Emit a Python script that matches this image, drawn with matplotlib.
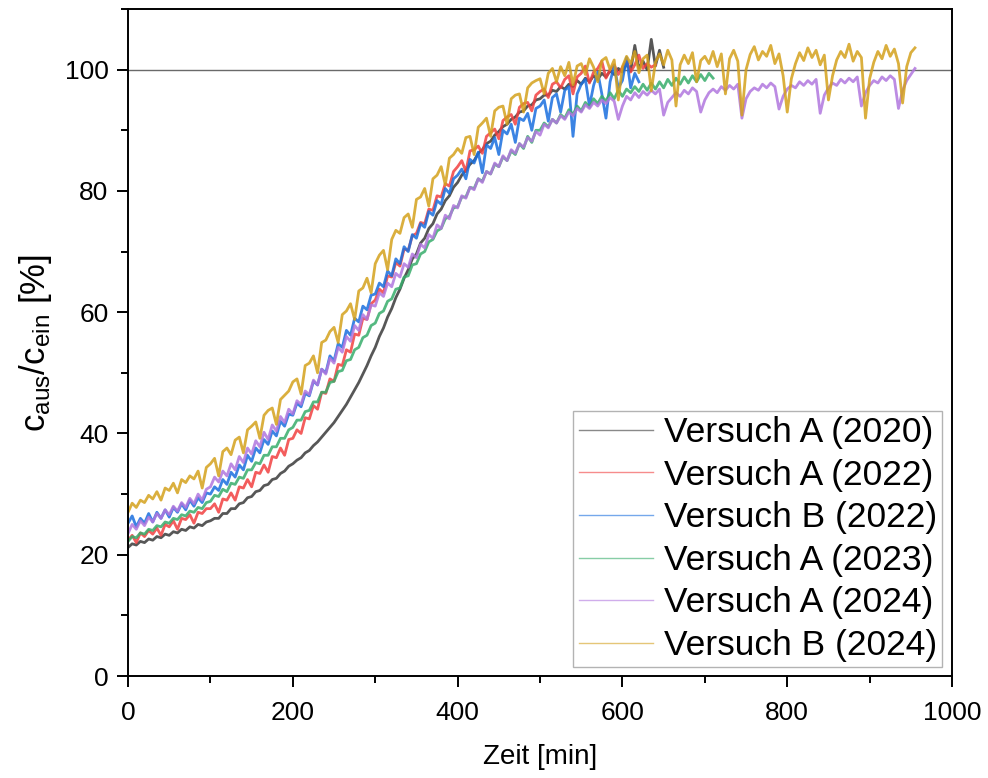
import numpy as np
import matplotlib
matplotlib.use("Agg")
import matplotlib.pyplot as plt
from matplotlib.ticker import MultipleLocator

plt.rcParams['font.family'] = ['Liberation Sans', 'DejaVu Sans']
plt.rcParams['mathtext.fontset'] = 'custom'
plt.rcParams['mathtext.rm'] = 'Liberation Sans'
plt.rcParams['mathtext.it'] = 'Liberation Sans'

step = 5

a2020 = [21.2, 21.8, 21.6, 22.2, 22.0, 22.6, 22.4, 23.0, 22.8, 23.4, 23.2, 23.8, 23.6, 24.2, 24.0, 24.6, 24.4, 25.0, 24.8, 25.4,
         25.6, 26.0, 26.0, 26.8, 26.8, 27.6, 27.6, 28.4, 28.6, 29.4, 29.6, 30.4, 30.6, 31.4, 31.6, 32.4, 32.6, 33.4, 33.8, 34.6,
         35.0, 35.6, 36.0, 36.8, 37.2, 38.0, 38.6, 39.4, 40.2, 41.0, 41.8, 42.8, 43.8, 44.8, 46.0, 47.2, 48.4, 49.8, 51.2, 52.8,
         54.2, 56.0, 57.4, 59.2, 60.6, 62.4, 63.8, 65.6, 67.0, 68.8, 69.6, 71.4, 72.2, 73.8, 74.6, 76.2, 77.0, 78.4, 79.2, 80.6,
         81.4, 82.6, 83.4, 84.4, 85.0, 86.2, 86.8, 87.8, 88.2, 89.2, 89.8, 90.6, 91.0, 91.8, 92.2, 93.0, 93.2, 94.0, 94.2, 95.0,
         95.2, 95.8, 95.8, 96.6, 96.4, 97.2, 96.8, 97.6, 97.2, 98.2, 97.6, 98.6, 98.0, 99.0, 98.4, 99.4, 98.8, 99.8, 99.2, 100.2,
         99.6, 101.0, 99.8, 104.0, 100.2, 101.4, 100.0, 105.0, 100.6, 103.2, 100.4]

a2022 = [22.4, 23.2, 22.0, 23.6, 23.0, 24.0, 23.4, 24.4, 23.2, 25.0, 24.6, 25.6, 24.2, 26.0, 25.8, 26.6, 25.2, 27.0, 26.8, 27.6,
         27.6, 28.4, 27.0, 29.2, 29.0, 30.2, 29.0, 31.2, 31.0, 32.4, 31.2, 33.6, 33.4, 34.8, 33.6, 36.2, 36.0, 37.6, 36.4, 39.0,
         39.2, 40.6, 40.0, 42.6, 42.4, 44.6, 44.0, 46.8, 46.6, 49.0, 48.6, 51.4, 51.2, 53.8, 53.4, 56.4, 56.2, 59.0, 58.8, 61.4,
         62.0, 63.8, 63.2, 66.0, 65.8, 68.2, 67.6, 70.4, 70.2, 72.6, 73.0, 74.8, 74.6, 77.0, 76.8, 79.2, 79.0, 81.2, 80.8, 83.2,
         84.0, 85.0, 83.2, 86.6, 86.8, 87.4, 86.2, 89.0, 89.6, 90.2, 88.6, 91.6, 92.2, 92.6, 91.0, 93.8, 94.4, 94.6, 93.2, 95.8,
         96.4, 96.8, 95.4, 97.6, 98.0, 97.0, 98.4, 99.0, 96.0, 98.8, 99.4, 100.6, 97.8, 99.6, 100.2, 101.4, 98.6, 100.0, 100.8, 99.2,
         100.4, 101.6, 99.6, 100.8, 102.4, 100.2, 101.0, 100.4, 100.8]

b2022 = [25.2, 26.4, 24.6, 26.0, 25.2, 26.8, 25.4, 27.0, 26.0, 27.4, 26.2, 27.8, 27.0, 28.4, 27.4, 29.0, 28.0, 29.4, 28.6, 30.2,
         30.0, 31.2, 30.6, 32.4, 31.6, 33.6, 32.8, 34.8, 34.0, 36.4, 35.4, 37.6, 36.8, 39.0, 38.2, 40.4, 39.6, 42.0, 41.2, 43.2,
         43.0, 45.0, 44.4, 46.6, 46.2, 48.6, 48.0, 50.6, 50.0, 52.8, 52.0, 54.8, 54.2, 57.0, 56.2, 59.0, 58.4, 61.0, 60.4, 62.8,
         63.0, 64.8, 64.2, 66.8, 66.0, 68.8, 68.0, 70.8, 70.0, 72.8, 72.2, 74.6, 74.0, 76.6, 76.0, 78.4, 77.8, 80.4, 79.6, 82.0,
         82.6, 83.6, 82.0, 85.2, 84.6, 86.4, 83.0, 87.6, 87.0, 88.8, 86.0, 90.0, 89.4, 91.0, 88.0, 92.0, 91.6, 92.8, 90.0, 93.6,
         94.0, 95.0, 91.5, 95.4, 96.0, 93.0, 96.6, 97.2, 89.0, 96.0, 97.6, 98.4, 94.0, 97.4, 99.6, 96.0, 92.0, 98.0, 100.6, 97.0,
         98.2, 102.0, 97.0, 99.4, 98.0]

a2023 = [22.2, 23.0, 22.8, 23.6, 23.4, 24.2, 24.0, 24.8, 24.6, 25.4, 25.2, 26.0, 25.8, 26.6, 26.4, 27.2, 27.0, 27.8, 27.6, 28.6,
         28.8, 29.8, 29.6, 30.8, 30.4, 31.8, 31.6, 32.8, 32.6, 34.0, 34.0, 35.2, 35.0, 36.4, 36.4, 37.8, 37.8, 39.2, 39.2, 40.6,
         41.0, 42.2, 42.2, 43.6, 43.8, 45.2, 45.2, 46.8, 46.8, 48.4, 48.6, 50.2, 50.4, 52.0, 52.2, 53.8, 54.2, 55.8, 56.2, 57.8,
         58.2, 59.8, 60.2, 61.8, 62.2, 63.8, 64.0, 65.8, 66.0, 67.8, 68.0, 69.6, 70.0, 71.6, 72.0, 73.4, 73.8, 75.4, 75.8, 77.2,
         77.4, 79.0, 79.0, 80.6, 80.4, 82.0, 81.6, 83.2, 82.8, 84.4, 84.0, 85.6, 85.0, 86.6, 86.0, 87.8, 87.0, 89.0, 88.0, 90.0,
         90.0, 91.2, 90.6, 91.8, 91.2, 92.6, 92.0, 93.4, 92.6, 94.0, 93.2, 94.6, 93.8, 95.2, 94.4, 95.6, 94.8, 96.2, 95.2, 96.6,
         95.6, 96.8, 96.2, 97.2, 96.4, 97.6, 96.6, 97.8, 96.8, 98.0, 97.0, 98.4, 97.4, 98.6, 97.6, 98.8, 97.8, 99.0, 98.0, 99.2,
         98.2, 99.4, 98.6]

a2024 = [23.5, 25.0, 24.2, 25.6, 24.8, 26.2, 25.4, 26.8, 26.0, 27.4, 26.6, 28.0, 27.2, 28.6, 27.8, 29.3, 28.4, 30.0, 29.0, 30.8,
         31.2, 32.8, 32.0, 33.8, 33.0, 35.0, 34.0, 36.2, 35.2, 37.6, 36.6, 38.8, 37.8, 40.2, 39.0, 41.4, 40.4, 42.8, 41.8, 44.0,
         43.2, 45.4, 44.8, 47.0, 46.4, 48.8, 48.0, 50.6, 49.8, 52.4, 51.6, 54.2, 53.4, 56.0, 55.2, 57.8, 57.0, 59.6, 58.8, 61.2,
         61.0, 63.2, 62.6, 64.8, 64.2, 66.4, 65.8, 68.0, 67.4, 69.6, 69.0, 71.2, 70.6, 72.8, 72.2, 74.4, 73.8, 76.0, 75.4, 77.6,
         77.2, 79.2, 78.8, 80.6, 80.2, 82.0, 81.4, 83.2, 82.8, 84.6, 84.0, 85.8, 85.0, 86.8, 86.2, 87.8, 87.2, 88.8, 88.2, 89.8,
         89.2, 91.0, 90.4, 91.8, 91.2, 92.4, 91.8, 93.0, 92.4, 93.6, 93.0, 94.2, 93.6, 94.6, 94.0, 95.0, 94.4, 95.4, 94.8, 91.8,
         94.0, 95.6, 95.0, 96.2, 95.4, 96.4, 95.8, 96.6, 96.0, 96.8, 92.5, 94.6, 95.4, 96.2, 95.6, 96.6, 96.0, 97.0, 96.4, 93.0,
         95.0, 96.2, 96.8, 96.2, 97.2, 96.6, 97.4, 96.8, 97.6, 92.0, 95.2, 96.4, 97.0, 96.6, 97.6, 97.0, 97.8, 97.2, 93.5, 95.6,
         96.8, 97.4, 97.0, 98.0, 97.4, 98.2, 97.6, 98.4, 92.8, 95.8, 97.0, 97.8, 97.4, 98.4, 97.8, 98.6, 98.0, 98.8, 94.0, 96.2,
         97.4, 98.2, 97.8, 98.8, 98.2, 99.0, 98.4, 93.6, 96.6, 98.2, 99.2, 100.2]

b2024 = [27.0, 28.5, 27.8, 29.0, 28.6, 29.8, 29.2, 30.4, 29.0, 31.0, 30.6, 31.8, 30.2, 32.4, 31.9, 33.0, 32.5, 33.8, 31.0, 34.4,
         35.0, 35.9, 33.0, 37.0, 37.6, 36.5, 38.9, 39.4, 36.8, 40.6, 41.2, 41.9, 39.2, 43.0, 43.8, 44.2, 41.5, 45.6, 46.3, 47.0,
         48.5, 49.0, 46.5, 51.2, 51.6, 52.8, 50.0, 55.0, 55.4, 56.8, 57.5, 55.0, 59.6, 60.2, 61.4, 58.8, 63.5, 64.0, 65.6, 63.2,
         68.0, 69.4, 70.2, 67.0, 72.0, 73.5, 73.0, 75.6, 76.2, 74.0, 78.6, 79.0, 80.4, 77.5, 82.0, 82.6, 84.0, 81.0, 85.4, 86.0,
         87.0, 86.2, 88.8, 89.0, 86.0, 90.5, 91.2, 92.0, 89.0, 93.2, 93.8, 94.0, 91.0, 95.2, 95.8, 96.0, 93.0, 97.0, 97.8, 98.2,
         98.5, 96.0, 99.4, 100.2, 98.0, 100.5, 99.0, 101.2, 97.5, 100.6, 101.0, 99.2, 101.8, 100.4, 98.0, 101.5, 102.0, 100.0, 101.6, 95.0,
         100.5, 102.2, 101.0, 103.0, 99.5, 101.8, 102.4, 96.5, 101.2, 102.6, 100.8, 103.2, 101.6, 94.0, 100.8, 102.4, 101.0, 102.8, 98.0, 101.5,
         102.2, 101.0, 103.0, 100.5, 102.6, 96.0, 101.8, 103.2, 101.4, 92.5, 100.0, 102.5, 103.8, 101.6, 103.0, 102.2, 104.0, 101.0, 102.6, 99.0,
         93.0, 98.5, 101.0, 102.8, 101.5, 103.6, 102.0, 103.2, 100.8, 102.4, 95.0, 99.0, 101.6, 103.0, 102.0, 104.2, 101.4, 103.0, 102.0, 92.0,
         98.5, 101.2, 103.0, 101.8, 104.0, 102.2, 103.4, 101.0, 94.5, 100.5, 102.8, 103.6]

labels = ["Versuch A (2020)", "Versuch A (2022)", "Versuch B (2022)",
          "Versuch A (2023)", "Versuch A (2024)", "Versuch B (2024)"]
series = [a2020, a2022, b2022, a2023, a2024, b2024]
colors = ["#3a3a3a", "#F14040", "#1A6FDF", "#37AD6B", "#B177DE", "#D4A11C"]

x_ticks = [0, 200, 400, 600, 800, 1000]
y_ticks = [0, 20, 40, 60, 80, 100]

# ---------------- figure ----------------
fig = plt.figure(figsize=(9.88, 7.78), dpi=100)
ax = fig.add_axes([0.1296, 0.1311, 0.8340, 0.8573])

ax.axhline(100, color="#6a6a6a", lw=1.0, zorder=1)

for vals, lab, col in zip(series, labels, colors):
    t = np.arange(len(vals)) * step
    ax.plot(t, vals, color=col, lw=2.0, alpha=0.85, label=lab, zorder=2)

ax.set_xlim(0, 1000)
ax.set_ylim(0, 110)
ax.set_xticks(x_ticks)
ax.set_yticks(y_ticks)
ax.xaxis.set_minor_locator(MultipleLocator(100))
ax.yaxis.set_minor_locator(MultipleLocator(10))
ax.tick_params(which="major", direction="out", length=8, width=1.4, labelsize=19,
               top=False, right=False)
ax.tick_params(axis="x", which="major", pad=10)
ax.tick_params(axis="y", which="major", pad=6)
ax.tick_params(which="minor", direction="out", length=5, width=1.4, top=False, right=False)
for sp in ax.spines.values():
    sp.set_linewidth(1.4)

ax.set_xlabel("Zeit [min]", fontsize=20, labelpad=14)
ax.set_ylabel(r"$\mathrm{c_{aus}/c_{ein}}$ [%]", fontsize=25, labelpad=8)

leg = ax.legend(loc="lower right", bbox_to_anchor=(0.988, 0.013), borderaxespad=0,
                fontsize=25.5, frameon=True, fancybox=False, handlelength=2.1,
                handletextpad=0.3, labelspacing=0.27, borderpad=0.15)
leg.get_frame().set_edgecolor("#a0a0a0")
leg.get_frame().set_linewidth(1.0)
for h in leg.get_lines():
    h.set_linewidth(1.0)
    h.set_alpha(0.6)

fig.savefig("out.png", dpi=100)
